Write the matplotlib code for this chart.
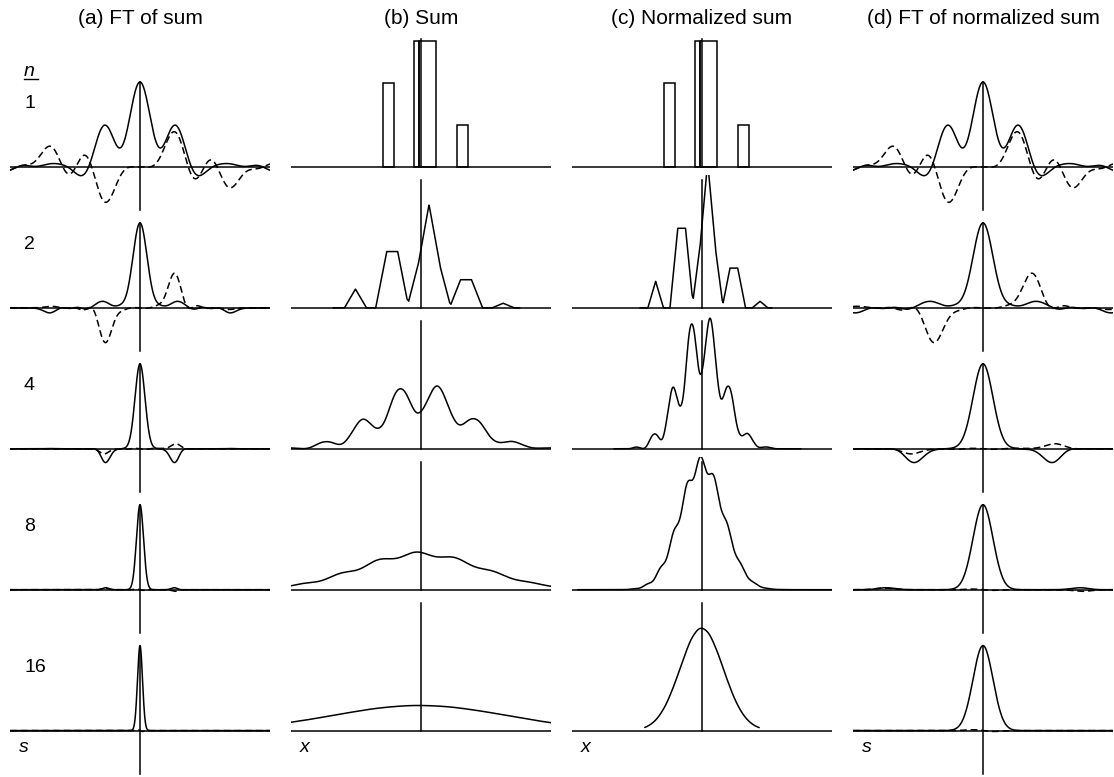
import numpy as np
import matplotlib
matplotlib.use("Agg")
import matplotlib.pyplot as plt
from matplotlib.lines import Line2D

plt.rcParams['font.family'] = ['Liberation Sans', 'DejaVu Sans']

# base distribution, n=1: boxes given as left edge, width, height
# (x measured in units of the narrow box width, origin on the vertical axis)
rect_left   = [-3.48, -0.64, -0.15, 3.23]
rect_width  = [1.00, 0.49, 1.51, 1.00]
rect_height = [2.0, 3.0, 3.0, 1.0]

n_values = [1, 2, 4, 8, 16]
# highest point of each curve in (b) and (c), in units of the n=1 tall box
peak_b = [1.00, 0.818, 0.50, 0.30, 0.20]
peak_c = [1.00, 1.156, 1.04, 1.06, 0.815]
# the last normalized curve stops short of the panel edge
c_last_end = 5.2

titles   = ['(a) FT of sum', '(b) Sum', '(c) Normalized sum', '(d) FT of normalized sum']
axis_var = ['s', 'x', 'x', 's']

# ---- layout (pixels of the 1114x777 picture)
W, H = 1114, 777
col_cx   = [140, 421, 702, 983]
half_w   = 130
base_y0  = 167.0
row_step = 140.9
above, below = 133, 46
px_x  = 11.0     # px per unit x
px_s  = 123.0    # px per unit s
px_F  = 85.0     # px per unit of transform
px_f  = 376.8    # px per unit density
lw = 1.1

# ---- base density on a grid
dx = 0.005
xg = np.arange(-4.0, 4.5, dx) + dx / 2
f1 = np.zeros_like(xg)
for l, w, h in zip(rect_left, rect_width, rect_height):
	f1[(xg >= l) & (xg < l + w)] += h
mass = sum(w * h for w, h in zip(rect_width, rect_height))
f1 = f1 / mass
top1 = max(rect_height) / mass

dens = {1: (xg, f1)}
for n in n_values[1:]:
	xp, fp = dens[n // 2]
	fn = np.convolve(fp, fp) * dx
	xn = 2 * xp[0] + np.arange(len(fn)) * dx
	dens[n] = (xn, fn)

def FT(s):
	out = np.zeros_like(s, dtype=complex)
	for l, w, h in zip(rect_left, rect_width, rect_height):
		c = l + w / 2
		out += h * w * np.sinc(w * s) * np.exp(2j * np.pi * s * c)
	return out / mass

sg = np.linspace(-half_w / px_s, half_w / px_s, 3000)

fig = plt.figure(figsize=(W / 100, H / 100), dpi=100)

def add_panel(col, row):
	by = base_y0 + row * row_step
	left = (col_cx[col] - half_w) / W
	bottom = 1 - (by + below) / H
	ax = fig.add_axes([left, bottom, 2 * half_w / W, (above + below) / H])
	ax.axis('off')
	return ax

def ft_panel(ax, Fn):
	ax.plot(sg, Fn.real, color='k', lw=lw)
	ax.plot(sg, Fn.imag, color='k', lw=lw, linestyle=(0, (4.5, 2.5)))
	ax.axhline(0, color='k', lw=lw)
	ax.plot([0, 0], [-43 / px_F, 1.0], color='k', lw=lw)
	ax.set_xlim(-half_w / px_s, half_w / px_s)
	ax.set_ylim(-below / px_F, above / px_F)

for r, n in enumerate(n_values):
	ft_panel(add_panel(0, r), FT(sg) ** n)
	ft_panel(add_panel(3, r), FT(sg / np.sqrt(n)) ** n)

	# (b) sum and (c) normalized sum
	for col, peaks in ((1, peak_b), (2, peak_c)):
		ax = add_panel(col, r)
		if n == 1:
			ax.bar(rect_left, np.array(rect_height) / mass, width=rect_width, align='edge',
					fill=False, edgecolor='k', lw=lw)
		else:
			xn, fn = dens[n]
			if col == 2:
				xn, fn = xn / np.sqrt(n), fn * np.sqrt(n)
				if n == n_values[-1]:
					keep = np.abs(xn) <= c_last_end
					xn, fn = xn[keep], fn[keep]
			ax.plot(xn, fn / fn.max() * peaks[r] * top1, color='k', lw=lw,
					solid_capstyle='round')
		ax.axhline(0, color='k', lw=lw)
		ax.plot([0, 0], [0, 128 / px_f], color='k', lw=lw)
		ax.set_xlim(-half_w / px_x, half_w / px_x)
		ax.set_ylim(-below / px_f, above / px_f)

# titles and labels
for cx, t in zip(col_cx, titles):
	fig.text(cx / W, 1 - 18 / H, t, ha='center', va='center', fontsize=15)

for r, n in enumerate(n_values):
	by = base_y0 + r * row_step
	fig.text(24 / W, 1 - (by - 63) / H, str(n), ha='left', va='center', fontsize=14)

fig.text(24 / W, 1 - 72 / H, 'n', ha='left', va='center', fontsize=14, style='italic')
fig.add_artist(Line2D([24 / W, 38 / W], [1 - 79 / H, 1 - 79 / H], color='k', lw=1.0))

for cx, v in zip(col_cx, axis_var):
	fig.text((cx - half_w + 9) / W, 1 - 747 / H, v, ha='left', va='center', fontsize=14, style='italic')

fig.savefig('out.png', dpi=100)
